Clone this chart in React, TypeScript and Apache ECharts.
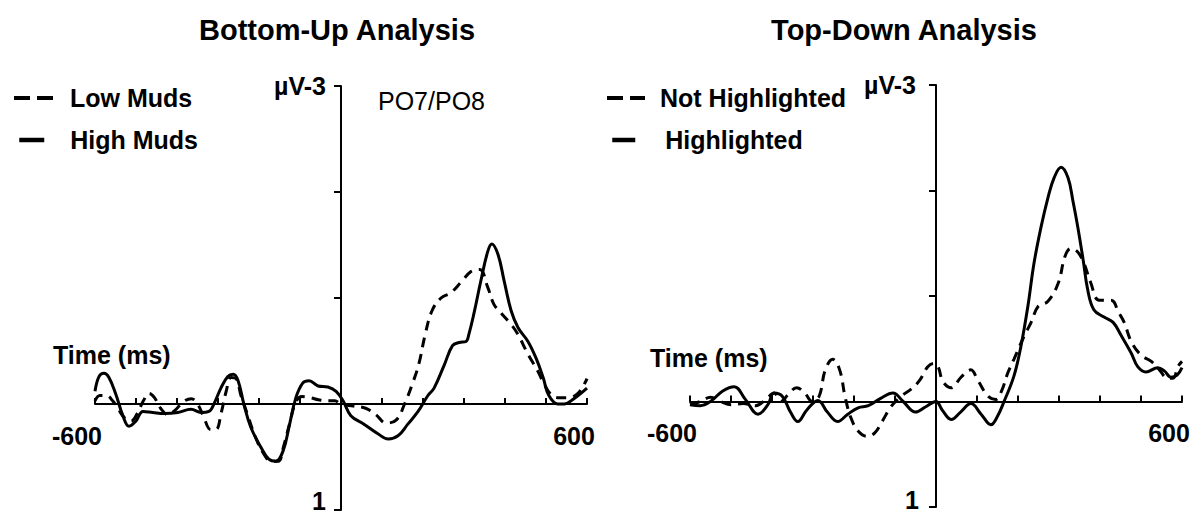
import React, { useEffect, useRef } from "react";
import * as echarts from "echarts";

// ---- data (time in ms, amplitude in µV; negative plotted upward) ----
const lowMuds: number[][] = [
  [-600, -0.03], [-588, -0.08], [-572, -0.08], [-557, -0.03], [-543, 0.05], [-528, 0.13], [-512, 0.16],
  [-497, 0.09], [-482, -0.03], [-468, -0.1], [-455, -0.06], [-440, 0.04], [-422, 0.1], [-405, 0.06],
  [-385, -0.02], [-365, -0.05], [-350, 0.0], [-335, 0.12], [-318, 0.24], [-305, 0.24], [-292, 0.08],
  [-280, -0.12], [-268, -0.25], [-256, -0.24], [-244, -0.08], [-228, 0.1], [-210, 0.3], [-190, 0.46],
  [-170, 0.54], [-153, 0.54], [-140, 0.4], [-125, 0.18], [-110, -0.02], [-95, -0.07], [-75, -0.06],
  [-55, -0.04], [-35, -0.03], [-15, -0.03], [0, 0], [30, 0.02], [60, 0.04], [85, 0.1], [110, 0.18],
  [135, 0.15], [155, 0.0], [175, -0.2], [190, -0.38], [205, -0.65], [222, -0.88], [244, -1.0],
  [268, -1.05], [293, -1.15], [317, -1.25], [338, -1.27], [358, -1.1], [373, -0.94], [390, -0.86],
  [415, -0.75], [431, -0.66], [456, -0.47], [480, -0.31], [495, -0.19], [512, -0.09], [529, -0.06],
  [553, -0.06], [578, -0.1], [600, -0.24],
];
const highMuds: number[][] = [
  [-600, -0.12], [-590, -0.26], [-578, -0.29], [-566, -0.25], [-549, -0.09], [-532, 0.11], [-517, 0.21],
  [-500, 0.16], [-483, 0.07], [-459, 0.08], [-432, 0.09], [-398, 0.08], [-366, 0.05], [-341, 0.08],
  [-322, 0.07], [-310, 0.0], [-293, -0.15], [-276, -0.26], [-263, -0.28], [-251, -0.22], [-237, 0.0],
  [-220, 0.22], [-195, 0.41], [-176, 0.52], [-159, 0.54], [-141, 0.44], [-127, 0.22], [-110, -0.06],
  [-93, -0.2], [-78, -0.22], [-56, -0.17], [-32, -0.16], [-12, -0.12], [5, -0.03], [24, 0.11],
  [56, 0.19], [90, 0.28], [115, 0.33], [139, 0.3], [163, 0.19], [188, 0.07], [212, -0.08], [227, -0.15],
  [252, -0.37], [272, -0.55], [288, -0.58], [305, -0.59], [312, -0.66], [324, -0.85], [341, -1.16],
  [358, -1.44], [368, -1.51], [383, -1.41], [398, -1.16], [415, -0.88], [432, -0.72], [456, -0.59],
  [476, -0.43], [493, -0.25], [507, -0.08], [529, 0.0], [544, 0.0], [568, -0.05], [600, -0.15],
];
const notHighlighted: number[][] = [
  [-600, 0.03], [-575, 0.0], [-550, -0.04], [-525, 0.0], [-500, 0.03], [-470, 0.02], [-440, 0.04],
  [-415, -0.02], [-395, -0.08], [-378, 0.0], [-360, -0.07], [-340, -0.13], [-320, -0.08], [-302, 0.0],
  [-285, -0.05], [-270, -0.3], [-252, -0.4], [-235, -0.3], [-222, -0.05], [-208, 0.15], [-190, 0.28],
  [-168, 0.33], [-150, 0.3], [-130, 0.18], [-110, 0.05], [-85, -0.05], [-60, -0.12], [-40, -0.2],
  [-20, -0.33], [-5, -0.36], [5, -0.33], [17, -0.19], [37, -0.13], [61, -0.23], [85, -0.3], [102, -0.2],
  [127, -0.05], [146, -0.02], [160, -0.1], [175, -0.27], [190, -0.4], [215, -0.62], [232, -0.75],
  [249, -0.9], [273, -0.95], [298, -1.12], [315, -1.38], [329, -1.45], [345, -1.42], [361, -1.31],
  [377, -1.13], [398, -0.96], [427, -0.96], [446, -0.84], [459, -0.75], [476, -0.57], [500, -0.44],
  [525, -0.38], [545, -0.3], [565, -0.22], [578, -0.22], [590, -0.33], [600, -0.38],
];
const highlighted: number[][] = [
  [-600, 0.03], [-575, 0.04], [-550, 0.0], [-520, -0.1], [-492, -0.14], [-465, -0.02], [-434, 0.12],
  [-410, 0.03], [-395, -0.08], [-375, -0.05], [-355, 0.1], [-337, 0.19], [-315, 0.08], [-288, -0.01],
  [-265, 0.1], [-240, 0.19], [-215, 0.12], [-190, 0.06], [-165, 0.04], [-135, -0.03], [-105, -0.08],
  [-80, 0.0], [-50, 0.1], [-25, 0.05], [0, 0.0], [15, 0.08], [37, 0.17], [60, 0.1], [85, 0.02],
  [110, 0.12], [134, 0.22], [150, 0.14], [166, 0.0], [190, -0.24], [207, -0.52], [224, -0.9],
  [239, -1.31], [256, -1.65], [273, -1.93], [288, -2.12], [305, -2.22], [322, -2.12], [334, -1.9],
  [346, -1.65], [359, -1.34], [370, -1.06], [385, -0.87], [410, -0.8], [432, -0.75], [451, -0.63],
  [476, -0.46], [492, -0.33], [512, -0.28], [541, -0.32], [557, -0.29], [573, -0.23], [588, -0.25],
  [600, -0.32],
];

const panelTitles = ["Bottom-Up Analysis", "Top-Down Analysis"];
const seriesNames = ["Low Muds", "High Muds", "Not Highlighted", "Highlighted"];
const timeRange = [-600, 600];
const ampRange = [-3, 1];
const timeLabel = "Time (ms)";
const ampTopLabel = "µV-3";
const ampBottomLabel = "1";
const channelLabel = "PO7/PO8";

const FONT = '"Liberation Sans", Arial, Helvetica, sans-serif';

// grid geometry (pixels)
const GRIDS = [
  { left: 95, width: 492, top: 86, height: 424 },
  { left: 690, width: 492, top: 85, height: 422 },
];

export default function App() {
  const ref = useRef<HTMLDivElement>(null);

  useEffect(() => {
    if (!ref.current) return;
    const chart = echarts.init(ref.current, null, { renderer: "svg" });

    // offsets that place each axis on the other's zero
    const zeroFracY = (0 - ampRange[0]) / (ampRange[1] - ampRange[0]);
    const zeroFracX = (0 - timeRange[0]) / (timeRange[1] - timeRange[0]);

    const xAxisFor = (gridIndex: number) => ({
      gridIndex,
      type: "value",
      position: "bottom",
      offset: -(GRIDS[gridIndex].height * (1 - zeroFracY)),
      min: timeRange[0],
      max: timeRange[1],
      interval: 100,
      axisLine: { onZero: false, lineStyle: { color: "#000", width: 2 } },
      axisTick: { show: true, inside: true, length: 6, lineStyle: { color: "#000", width: 2 } },
      splitLine: { show: false },
      axisLabel: {
        show: true,
        interval: 0,
        showMinLabel: true,
        showMaxLabel: true,
        margin: 19,
        color: "#000",
        fontFamily: FONT,
        fontWeight: "bold",
        fontSize: 25,
        formatter: (v: number) =>
          v === timeRange[0] ? `{neg|${v}}` : v === timeRange[1] ? `{pos|${v}}` : "",
        rich: {
          neg: { fontFamily: FONT, fontWeight: "bold", fontSize: 25, color: "#000", padding: [0, 36, 0, 0] },
          pos: { fontFamily: FONT, fontWeight: "bold", fontSize: 25, color: "#000", padding: [0, 26, 0, 0] },
        },
      },
    });

    const yAxisFor = (gridIndex: number) => ({
      gridIndex,
      type: "value",
      position: "left",
      offset: -(GRIDS[gridIndex].width * zeroFracX),
      inverse: true,
      min: ampRange[0],
      max: ampRange[1],
      interval: 1,
      axisLine: { onZero: false, lineStyle: { color: "#000", width: 2 } },
      axisTick: { show: true, inside: false, length: 7, lineStyle: { color: "#000", width: 2 } },
      splitLine: { show: false },
      axisLabel: {
        show: true,
        margin: gridIndex === 0 ? 15 : 20,
        showMinLabel: true,
        color: "#000",
        fontFamily: FONT,
        fontWeight: "bold",
        fontSize: 25,
        formatter: (v: number) => (v === ampRange[0] ? ampTopLabel : ""),
      },
    });

    const lineSeries = (name: string, data: number[][], idx: number, dashed: boolean) => ({
      name,
      type: "line",
      xAxisIndex: idx,
      yAxisIndex: idx,
      data,
      smooth: 0.4,
      symbol: "none",
      lineStyle: { color: "#000", width: 3, type: dashed ? [10, 7] : "solid" },
      itemStyle: { color: "#000" },
      z: dashed ? 2 : 3,
    });

    const legendText = (padding: number[]) => ({
      fontFamily: FONT,
      fontWeight: "bold",
      fontSize: 25,
      color: "#000",
      lineHeight: 30,
      padding,
    });
    const hiddenSymbol = { color: "rgba(0,0,0,0)", borderColor: "rgba(0,0,0,0)", borderWidth: 0, opacity: 0 };

    const textEl = (text: string, x: number, y: number, font: string, align: string, vAlign: string) => ({
      type: "text",
      x,
      y,
      style: { text, fill: "#000", font, align, verticalAlign: vAlign, textAlign: align, textVerticalAlign: vAlign },
    });

    chart.setOption({
      animation: false,
      backgroundColor: "#fff",
      grid: GRIDS.map((g) => ({
        left: g.left,
        top: g.top,
        width: g.width,
        height: g.height,
        containLabel: false,
        outerBoundsMode: "none",
      })),
      xAxis: [xAxisFor(0), xAxisFor(1)],
      yAxis: [yAxisFor(0), yAxisFor(1)],
      legend: [
        {
          data: [seriesNames[0]], left: 12, top: 79, padding: 0, itemWidth: 40, itemHeight: 30,
          lineStyle: { type: [16, 7], width: 4, color: "#000" }, itemStyle: hiddenSymbol,
          textStyle: legendText([8, 0, 0, 11]), selectedMode: false,
        },
        {
          data: [seriesNames[1]], left: 17, top: 118, padding: 0, itemWidth: 25, itemHeight: 30,
          lineStyle: { type: "solid", width: 4.5, color: "#000" }, itemStyle: hiddenSymbol,
          textStyle: legendText([0, 0, 14, 21]), selectedMode: false,
        },
        {
          data: [seriesNames[2]], left: 605, top: 83, padding: 0, itemWidth: 38, itemHeight: 30,
          lineStyle: { type: [16, 7], width: 4, color: "#000" }, itemStyle: hiddenSymbol,
          textStyle: legendText([0, 0, 0, 10]), selectedMode: false,
        },
        {
          data: [seriesNames[3]], left: 610, top: 118, padding: 0, itemWidth: 23, itemHeight: 30,
          lineStyle: { type: "solid", width: 4.5, color: "#000" }, itemStyle: hiddenSymbol,
          textStyle: legendText([0, 0, 14, 25]), selectedMode: false,
        },
      ],
      graphic: [
        textEl(panelTitles[0], 337, 30, `bold 29px ${FONT}`, "center", "middle"),
        textEl(panelTitles[1], 904, 30, `bold 29px ${FONT}`, "center", "middle"),
        textEl(channelLabel, 378, 101, `25px ${FONT}`, "left", "middle"),
        textEl(timeLabel, 53, 355, `bold 25px ${FONT}`, "left", "middle"),
        textEl(timeLabel, 650, 358, `bold 25px ${FONT}`, "left", "middle"),
        textEl(ampBottomLabel, 326, 513, `bold 25px ${FONT}`, "right", "bottom"),
        textEl(ampBottomLabel, 919, 512, `bold 25px ${FONT}`, "right", "bottom"),
      ],
      series: [
        lineSeries(seriesNames[0], lowMuds, 0, true),
        lineSeries(seriesNames[1], highMuds, 0, false),
        lineSeries(seriesNames[2], notHighlighted, 1, true),
        lineSeries(seriesNames[3], highlighted, 1, false),
      ],
    });

    return () => chart.dispose();
  }, []);

  return (
    <div
      ref={ref}
      style={{ position: "fixed", left: 0, top: 0, width: 1200, height: 513, background: "#fff" }}
    />
  );
}
